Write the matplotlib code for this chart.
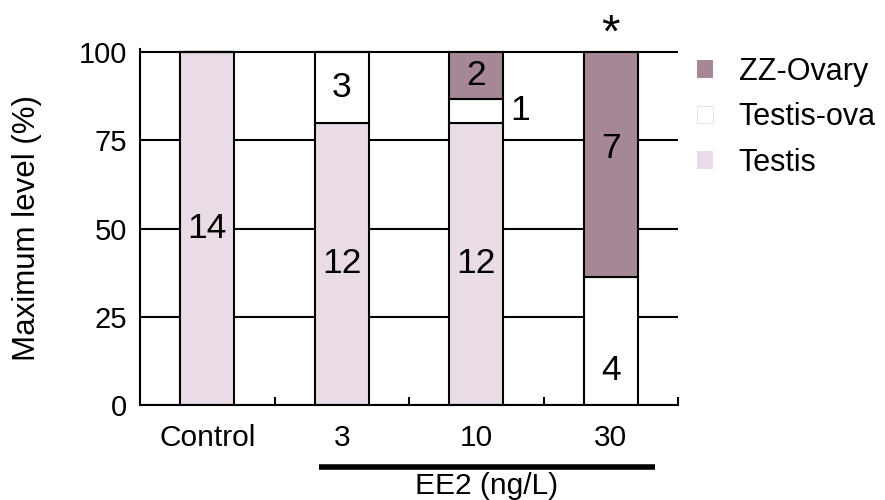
import matplotlib
matplotlib.use("Agg")
import matplotlib.pyplot as plt
from matplotlib.patches import Patch
import numpy as np

plt.rcParams['font.family'] = ['Liberation Sans', 'DejaVu Sans']

# ---- data ----
groups = ['Control', '3', '10', '30']
testis = [14, 12, 12, 0]
testis_ova = [0, 3, 1, 4]
zz_ovary = [0, 0, 2, 7]
series_names = ['ZZ-Ovary', 'Testis-ova', 'Testis']
y_ticks = [0, 25, 50, 75, 100]
group_label = 'EE2 (ng/L)'
y_label = 'Maximum level (%)'
significance = ['', '', '', '*']

# ---- styles ----
c_testis = '#eadce7'
c_tova = '#ffffff'
c_zz = '#a68796'

W, H, DPI = 885, 500, 100
fig = plt.figure(figsize=(W / DPI, H / DPI), dpi=DPI)
ax = fig.add_axes([140 / W, 95 / H, 538 / W, 356.5 / H])

x = np.arange(len(groups))
counts = np.array([testis, testis_ova, zz_ovary], dtype=float)
totals = counts.sum(axis=0)
pct = counts / totals * 100

colors = [c_testis, c_tova, c_zz]
bw = 0.4
bottom = np.zeros(len(groups))
bar_sets = []
for i in range(3):
    ax.bar(x, pct[i], bw, bottom=bottom, color=colors[i],
           edgecolor='black', linewidth=1.5, zorder=3)
    bar_sets.append((bottom.copy(), pct[i].copy()))
    bottom += pct[i]

# label placement fraction inside each segment (layout)
frac = np.full(counts.shape, 0.5)
frac[1, 3] = 0.27
frac[2, 3] = 0.57
for i in range(3):
    b, h = bar_sets[i]
    for j in range(len(groups)):
        n = int(counts[i, j])
        if n == 0:
            continue
        yy = b[j] + h[j] * frac[i, j]
        if h[j] < 10:
            ax.text(x[j] + bw / 2 + 0.05, yy, str(n), ha='left', va='center',
                    fontsize=25.5, zorder=5)
        else:
            ax.text(x[j], yy, str(n), ha='center', va='center',
                    fontsize=25.5, zorder=5)

for j, s in enumerate(significance):
    if s:
        ax.text(x[j], 101.6, s, ha='center', va='baseline', fontsize=34,
                clip_on=False)

ax.set_xlim(-0.5, 3.5)
ax.set_ylim(0, 101)
ax.set_yticks(y_ticks)
ax.set_xticks(x)
ax.set_xticklabels(groups)
ax.set_xticks(np.arange(len(groups)) + 0.5, minor=True)
ax.tick_params(axis='x', which='major', length=0, pad=14, labelsize=21.5)
ax.tick_params(axis='x', which='minor', length=6, width=1.5, direction='in')
ax.tick_params(axis='y', length=0, pad=9, labelsize=21)
ax.yaxis.grid(True, color='black', linewidth=1.5)
ax.set_axisbelow(True)
for sp in ['top', 'right']:
    ax.spines[sp].set_visible(False)
for sp in ['left', 'bottom']:
    ax.spines[sp].set_linewidth(1.5)
    ax.spines[sp].set_zorder(4)

fig.text(27 / W, 1 - 228 / H, y_label, rotation=90, ha='center', va='center',
         fontsize=22.5)

# EE2 group line
ax.plot([0.83, 3.33], [-0.173, -0.173], color='black', linewidth=4,
        transform=ax.get_xaxis_transform(), clip_on=False, solid_capstyle='butt')
ax.text(2.08, -0.226, group_label, ha='center', va='center', fontsize=21.5,
        transform=ax.get_xaxis_transform())

handles = [Patch(facecolor=c_zz, edgecolor='none'),
           Patch(facecolor=c_tova, edgecolor='#dddddd', linewidth=0.6),
           Patch(facecolor=c_testis, edgecolor='none')]
fig.legend(handles, series_names, loc='upper left',
           bbox_to_anchor=(697 / W, 1 - 57 / H), frameon=False, fontsize=22,
           handlelength=0.52, handleheight=0.52, handletextpad=0.85,
           labelspacing=0.5, borderpad=0, borderaxespad=0)

fig.savefig('out.png', dpi=DPI)
